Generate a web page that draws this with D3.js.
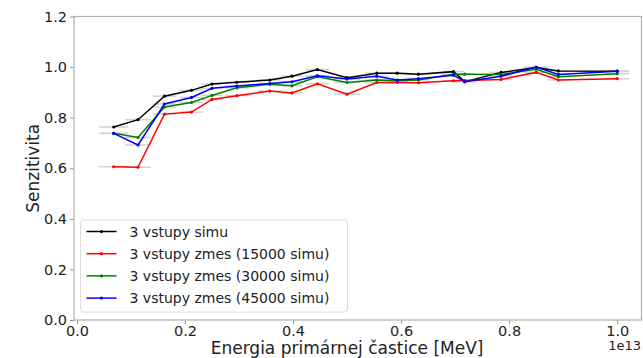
<!DOCTYPE html>
<html>
<head>
<meta charset="utf-8">
<script src="https://cdn.jsdelivr.net/npm/d3@7"></script>
<style>
  body { margin: 0; background: #fff; }
  svg { display: block; font-family: "DejaVu Sans", sans-serif; }
</style>
</head>
<body>
<svg id="chart" width="643" height="358"></svg>
<script>
// energie (v jednotkach 1e13 MeV)
const energy = [0.068, 0.113, 0.162, 0.212, 0.25, 0.296, 0.357, 0.398, 0.445, 0.5,
  0.555, 0.593, 0.632, 0.697, 0.718, 0.785, 0.85, 0.891, 1.0];
// polovicna sirka binu (horizontalne chybove useky)
const energyErr = [0.027, 0.024, 0.022, 0.022, 0.02, 0.022, 0.022, 0.02, 0.022, 0.024,
  0.022, 0.02, 0.02, 0.02, 0.02, 0.022, 0.022, 0.02, 0.022];

const simu = [0.763, 0.792, 0.885, 0.908, 0.933, 0.94, 0.949, 0.964, 0.99, 0.958,
  0.976, 0.976, 0.972, 0.982, 0.942, 0.979, 0.998, 0.985, 0.984];
const zmes15000 = [0.606, 0.604, 0.814, 0.822, 0.872, 0.887, 0.905, 0.898, 0.934, 0.893,
  0.939, 0.939, 0.938, 0.946, 0.947, 0.951, 0.979, 0.949, 0.954];
const zmes30000 = [0.738, 0.722, 0.842, 0.86, 0.888, 0.918, 0.932, 0.926, 0.962, 0.939,
  0.949, 0.946, 0.949, 0.972, 0.972, 0.971, 0.991, 0.962, 0.974];
const zmes45000 = [0.738, 0.692, 0.854, 0.88, 0.916, 0.925, 0.935, 0.942, 0.966, 0.953,
  0.964, 0.949, 0.954, 0.968, 0.942, 0.964, 1.0, 0.971, 0.984];

const seriesNames = ['3 vstupy simu', '3 vstupy zmes (15000 simu)',
  '3 vstupy zmes (30000 simu)', '3 vstupy zmes (45000 simu)'];
const seriesValues = [simu, zmes15000, zmes30000, zmes45000];
const seriesColors = ['#000000', '#ff0000', '#008000', '#0000ff'];

const xTicks = [0.0, 0.2, 0.4, 0.6, 0.8, 1.0];
const yTicks = [0.0, 0.2, 0.4, 0.6, 0.8, 1.0, 1.2];

const svg = d3.select('#chart');
const plotLeft = 74, plotRight = 641.5, plotTop = 16.5, plotBottom = 320;

const x = d3.scaleLinear().domain([-0.0055, 1.045]).range([plotLeft, plotRight]);
const y = d3.scaleLinear().domain([0, 1.2]).range([plotBottom, plotTop]);

// chybove useky
seriesValues.forEach((vals) => {
  svg.append('g')
    .selectAll('line')
    .data(vals)
    .enter()
    .append('line')
    .attr('x1', (d, i) => x(energy[i] - energyErr[i]))
    .attr('x2', (d, i) => x(energy[i] + energyErr[i]))
    .attr('y1', d => y(d))
    .attr('y2', d => y(d))
    .attr('stroke', '#d3d3d3')
    .attr('stroke-width', 1.5);
});

// krivky
const line = d3.line()
  .x((d, i) => x(energy[i]))
  .y(d => y(d));

seriesValues.forEach((vals, s) => {
  svg.append('path')
    .datum(vals)
    .attr('d', line)
    .attr('fill', 'none')
    .attr('stroke', seriesColors[s])
    .attr('stroke-width', 1.5);

  svg.append('g')
    .selectAll('circle')
    .data(vals)
    .enter()
    .append('circle')
    .attr('cx', (d, i) => x(energy[i]))
    .attr('cy', d => y(d))
    .attr('r', 1.6)
    .attr('fill', seriesColors[s]);
});

// osi
const xAxis = svg.append('g')
  .attr('transform', `translate(0,${plotBottom})`)
  .call(d3.axisBottom(x).tickValues(xTicks).tickFormat(d3.format('.1f')).tickSize(4).tickPadding(2));
const yAxis = svg.append('g')
  .attr('transform', `translate(${plotLeft},0)`)
  .call(d3.axisLeft(y).tickValues(yTicks).tickFormat(d3.format('.1f')).tickSize(4).tickPadding(3));

[xAxis, yAxis].forEach(a => {
  a.select('.domain').remove();
  a.selectAll('.tick line').attr('stroke', '#999');
  a.selectAll('.tick text')
    .attr('font-size', 14.5)
    .attr('font-family', 'DejaVu Sans, sans-serif')
    .attr('fill', '#222');
});

// ramcek
svg.append('rect')
  .attr('x', plotLeft)
  .attr('y', plotTop)
  .attr('width', plotRight - plotLeft)
  .attr('height', plotBottom - plotTop)
  .attr('fill', 'none')
  .attr('stroke', '#b0b0b0')
  .attr('stroke-width', 1.2);

// popisy osi
svg.append('text')
  .attr('x', (x(0) + x(1)) / 2)
  .attr('y', 354)
  .attr('text-anchor', 'middle')
  .attr('font-size', 17)
  .attr('fill', '#222')
  .text('Energia primárnej častice [MeV]');

svg.append('text')
  .attr('transform', `translate(39,${(plotTop + plotBottom) / 2}) rotate(-90)`)
  .attr('text-anchor', 'middle')
  .attr('font-size', 17)
  .attr('fill', '#222')
  .text('Senzitivita');

svg.append('text')
  .attr('x', 641)
  .attr('y', 350)
  .attr('text-anchor', 'end')
  .attr('font-size', 13)
  .attr('fill', '#222')
  .text('1e13');

// legenda
const legend = svg.append('g').attr('transform', 'translate(80.5,220)');
legend.append('rect')
  .attr('width', 267)
  .attr('height', 92)
  .attr('rx', 3)
  .attr('fill', 'white')
  .attr('fill-opacity', 0.85)
  .attr('stroke', '#dcdcdc');

seriesNames.forEach((name, i) => {
  const ly = 11.5 + i * 22.2;
  legend.append('line')
    .attr('x1', 6)
    .attr('x2', 36)
    .attr('y1', ly)
    .attr('y2', ly)
    .attr('stroke', seriesColors[i])
    .attr('stroke-width', 1.5);
  legend.append('circle')
    .attr('cx', 21)
    .attr('cy', ly)
    .attr('r', 1.6)
    .attr('fill', seriesColors[i]);
  legend.append('text')
    .attr('x', 49)
    .attr('y', ly + 5)
    .attr('font-size', 14)
    .attr('fill', '#222')
    .text(name);
});
</script>
</body>
</html>
